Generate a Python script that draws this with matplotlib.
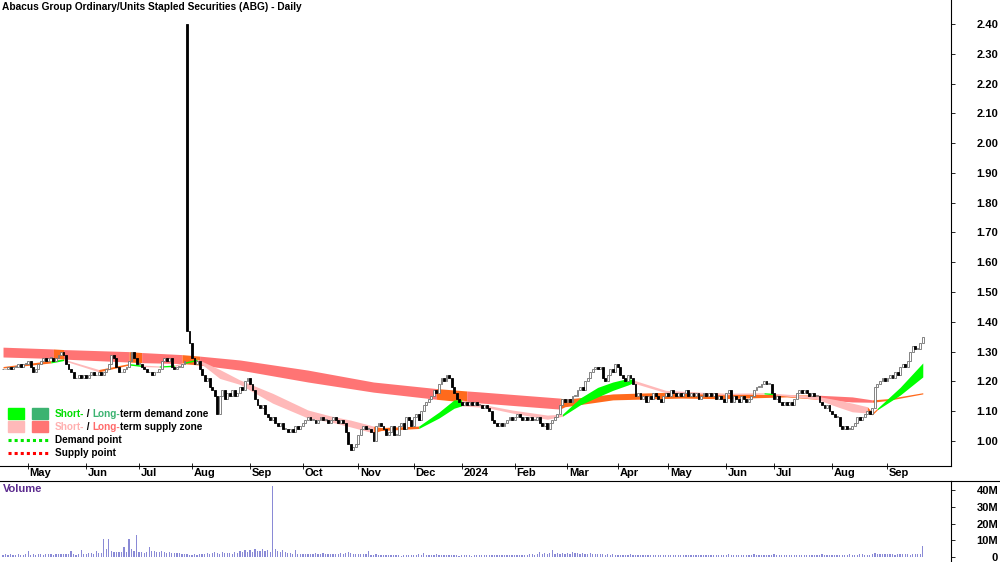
import numpy as np
import pandas as pd
import matplotlib
matplotlib.use('Agg')
import matplotlib.pyplot as plt
from matplotlib.patches import Rectangle
from matplotlib.lines import Line2D

plt.rcParams['font.family'] = ['Liberation Sans Narrow', 'Liberation Sans', 'DejaVu Sans']

title = 'Abacus Group Ordinary/Units Stapled Securities (ABG) - Daily'

# trading calendar
start_date = '2023-04-14'
asx_holidays = ['2023-04-25', '2023-06-12', '2023-12-25', '2023-12-26', '2024-01-01',
                '2024-01-26', '2024-03-29', '2024-04-01', '2024-04-25', '2024-06-10']

# daily closes
close = [
    1.24, 1.24, 1.25, 1.24, 1.25, 1.25, 1.26, 1.25, 1.26, 1.26,
    1.27, 1.25, 1.23, 1.24, 1.26,
    1.27, 1.28, 1.27, 1.28, 1.28, 1.27, 1.28, 1.29, 1.30, 1.29,
    1.26, 1.24, 1.23, 1.21, 1.21, 1.22,
    1.21, 1.22, 1.21, 1.22, 1.23, 1.22, 1.22, 1.23, 1.22, 1.23,
    1.24, 1.26, 1.29, 1.28,
    1.25, 1.23, 1.23, 1.24, 1.25, 1.27,
    1.30, 1.28, 1.26, 1.26,
    1.25, 1.24, 1.23, 1.23, 1.22, 1.23, 1.23, 1.24,
    1.27, 1.28, 1.27, 1.28, 1.25, 1.24, 1.25, 1.25,
    1.26, 1.27,
    1.37,
    1.33, 1.28, 1.26, 1.27, 1.24,
    1.22, 1.20, 1.21, 1.18, 1.17, 1.15,
    1.09,
    1.15, 1.17, 1.14, 1.16, 1.15,
    1.17, 1.15, 1.16, 1.18, 1.17,
    1.20, 1.21, 1.19,
    1.17, 1.14, 1.12, 1.11, 1.12,
    1.09, 1.08, 1.07, 1.08, 1.06, 1.05, 1.06,
    1.04, 1.04, 1.03, 1.04, 1.03, 1.05, 1.04, 1.05, 1.06,
    1.07, 1.08, 1.07, 1.07, 1.06, 1.07, 1.08, 1.07, 1.07,
    1.06, 1.07, 1.08, 1.07, 1.06, 1.07, 1.06,
    1.03,
    0.99, 0.97, 0.98, 0.99,
    1.02, 1.04, 1.05, 1.04, 1.04,
    1.03, 1.00,
    1.05, 1.06, 1.05,
    1.04, 1.02, 1.03, 1.05, 1.02,
    1.02, 1.05, 1.06, 1.04,
    1.08, 1.07, 1.05, 1.08, 1.09,
    1.07, 1.10, 1.12, 1.13, 1.14,
    1.15, 1.17, 1.16, 1.19, 1.21,
    1.20, 1.22, 1.21,
    1.18, 1.16, 1.14,
    1.13, 1.12, 1.13, 1.12, 1.13,
    1.12, 1.13, 1.12, 1.12, 1.11,
    1.12, 1.11, 1.10,
    1.07, 1.06, 1.05, 1.06,
    1.05, 1.06, 1.07, 1.08, 1.07,
    1.08, 1.09, 1.08, 1.07, 1.08, 1.07,
    1.08, 1.07, 1.07, 1.08, 1.06,
    1.05, 1.06, 1.04, 1.06, 1.07,
    1.08, 1.09, 1.12, 1.14,
    1.13, 1.14, 1.13, 1.15, 1.15,
    1.17, 1.18, 1.17, 1.20, 1.21,
    1.23, 1.24, 1.25, 1.24, 1.25,
    1.21, 1.20, 1.22,
    1.24, 1.23, 1.26, 1.25,
    1.22, 1.21, 1.20, 1.22,
    1.21, 1.19,
    1.15,
    1.16, 1.14, 1.15, 1.13, 1.15,
    1.14, 1.16, 1.15, 1.14, 1.13, 1.15,
    1.16, 1.15, 1.17, 1.16, 1.15, 1.16,
    1.15, 1.16, 1.17, 1.15, 1.16, 1.15,
    1.16, 1.14, 1.15, 1.16, 1.15, 1.16,
    1.15, 1.16, 1.14, 1.15, 1.14,
    1.13, 1.16, 1.17, 1.13, 1.15,
    1.14, 1.13, 1.15, 1.14, 1.13,
    1.14, 1.15, 1.17, 1.18, 1.18,
    1.19, 1.20, 1.19, 1.19,
    1.16, 1.14, 1.15,
    1.13, 1.12, 1.13, 1.12, 1.13, 1.12,
    1.14, 1.16, 1.17, 1.16, 1.17,
    1.16, 1.15, 1.16, 1.15, 1.15,
    1.13, 1.12, 1.11, 1.12, 1.10,
    1.09, 1.08, 1.08,
    1.05, 1.04, 1.05, 1.04, 1.04, 1.05,
    1.06, 1.08, 1.07, 1.08, 1.09,
    1.10, 1.09, 1.11,
    1.18,
    1.19, 1.20, 1.21, 1.20,
    1.21, 1.22, 1.21, 1.23, 1.22,
    1.25, 1.26, 1.25, 1.27,
    1.30, 1.32, 1.31,
    1.31, 1.33, 1.35,
]
# the bad tick on the spike day
open_override = {73: 2.40}

# daily volume, millions
volume_m = [
    1.2, 1.5, 1.0, 1.8, 1.3, 1.1, 1.6, 1.4, 1.2, 1.9,
    3.8, 1.4, 1.6, 1.3, 1.7, 1.5, 1.4, 1.8, 1.5, 1.6,
    1.4, 1.7, 1.6, 1.5, 1.8, 1.9, 2.0, 3.8, 1.6, 1.4,
    1.5, 4.4, 1.8, 1.6, 2.2, 2.6, 1.9, 3.4, 2.1, 2.4,
    10.9, 4.8, 10.9, 3.8, 2.9, 3.1, 2.7, 2.9, 5.7, 3.2,
    10.5, 5.0, 3.4, 13.0, 2.9, 2.8, 2.6, 3.1, 5.7, 3.4,
    3.8, 3.2, 2.9, 3.6, 2.7, 2.4, 3.0, 2.6, 2.2, 2.5,
    2.3, 1.8, 1.5, 2.0, 1.4, 1.2, 1.6, 1.3, 1.5, 1.7,
    1.9, 2.2, 1.8, 2.5, 2.7, 2.4, 1.6, 2.8, 2.3, 2.6,
    2.2, 1.9, 3.0, 2.1, 3.6, 2.8, 4.2, 3.1, 3.9, 2.7,
    4.6, 3.3, 3.8, 4.9, 3.5, 4.1, 3.0, 42.5, 4.5, 3.6,
    3.2, 4.0, 2.8, 2.1, 2.6, 1.9, 4.4, 2.0, 1.7, 1.8,
    1.9, 1.6, 2.0, 1.8, 2.2, 1.7, 1.9, 2.1, 1.6, 1.8,
    1.7, 1.5, 2.0, 1.9, 2.3, 1.6, 2.4, 2.9, 2.2, 1.8,
    1.7, 1.6, 2.0, 1.5, 1.8, 3.8, 1.4, 1.2, 1.5, 1.1,
    1.3, 1.0, 1.2, 0.9, 1.1, 1.4, 1.0, 1.2, 0.8, 1.1,
    1.0, 1.3, 0.9, 1.2, 1.1, 1.6, 1.4, 2.5, 1.2, 1.0,
    1.3, 1.1, 1.5, 1.2, 1.0, 1.4, 1.2, 1.1, 0.9, 1.3,
    1.0, 0.8, 1.1, 0.9, 1.2, 1.0, 0.8, 0.9, 1.1, 1.0,
    1.2, 0.9, 1.3, 1.1, 1.0, 1.2, 0.9, 1.1, 1.3, 1.2,
    1.0, 1.4, 1.1, 1.2, 1.0, 1.3, 1.1, 1.4, 1.2, 1.5,
    1.7, 1.4, 1.9, 3.2, 1.8, 2.1, 1.6, 2.3, 4.4, 1.9,
    2.2, 1.8, 2.6, 2.0, 2.4, 1.7, 2.8, 2.1, 2.5, 1.9,
    2.3, 2.0, 1.8, 2.2, 1.6, 1.9, 1.7, 1.5, 1.8, 1.4,
    1.6, 1.3, 1.5, 1.2, 1.4, 1.1, 1.3, 1.0, 1.2, 1.9,
    1.3, 1.1, 1.2, 1.0, 1.3, 1.1, 0.9, 1.2, 1.0, 1.1,
    1.3, 1.1, 1.2, 1.4, 1.0, 1.2, 0.9, 1.1, 1.3, 1.0,
    1.2, 1.0, 1.1, 1.3, 0.9, 1.2, 1.0, 1.1, 1.4, 1.2,
    1.0, 1.3, 1.1, 1.2, 1.0, 1.4, 1.1, 1.2, 1.6, 1.0,
    1.3, 1.1, 1.2, 1.0, 1.4, 1.1, 1.3, 1.2, 1.5, 1.1,
    1.2, 1.0, 1.3, 1.1, 1.4, 1.2, 1.9, 1.3, 1.1, 1.2,
    1.0, 1.3, 1.1, 1.2, 1.4, 1.1, 1.2, 1.0, 1.3, 1.1,
    1.2, 1.4, 1.1, 1.3, 1.2, 1.5, 1.3, 1.4, 1.2, 1.3,
    1.1, 1.2, 1.4, 1.3, 1.1, 1.2, 1.5, 1.3, 1.2, 1.4,
    1.6, 2.0, 1.4, 1.2, 1.3, 1.5, 2.1, 1.8, 1.6, 1.9,
    1.7, 1.5, 1.8, 1.6, 1.4, 1.9, 1.7, 1.5, 1.6, 1.8,
    1.4, 1.7, 1.5, 1.6, 1.8, 6.3,
]

# long-term zone edges, sampled at trading-day positions
lt_idx = [0, 20, 24, 50, 55, 71, 78, 94, 121, 147,
          172, 184, 189, 221, 223, 242, 269, 285, 311, 323,
          337, 345, 351, 365]
lt_top = [1.315, 1.309, 1.307, 1.300, 1.297, 1.290, 1.285, 1.272, 1.238, 1.198,
          1.176, 1.168, 1.165, 1.144, 1.140, 1.158, 1.165, 1.160, 1.155, 1.154,
          1.148, 1.138, 1.142, 1.162]
lt_bot = [1.282, 1.277, 1.275, 1.265, 1.263, 1.260, 1.255, 1.238, 1.198, 1.164,
          1.140, 1.130, 1.128, 1.107, 1.115, 1.138, 1.144, 1.142, 1.148, 1.140,
          1.131, 1.130, 1.136, 1.158]
lt_state = ['R', 'O', 'R', 'O', 'R', 'O', 'R', 'R', 'R', 'R',
            'O', 'R', 'R', 'O', 'O', 'O', 'O', 'O', 'O', 'R',
            'R', 'O', 'O', 'O']

# short-term zone edges
st_idx = [0, 19, 24, 38, 50, 55, 62, 68, 72, 77,
          86, 94, 107, 121, 130, 138, 147, 150, 165, 173,
          179, 182, 192, 202, 216, 222, 229, 236, 242, 248,
          250, 263, 285, 302, 306, 323, 331, 337, 343, 345,
          347, 356, 365]
st_top = [1.250, 1.270, 1.275, 1.240, 1.260, 1.255, 1.252, 1.255, 1.265, 1.275,
          1.240, 1.205, 1.160, 1.104, 1.084, 1.070, 1.050, 1.045, 1.050, 1.097,
          1.138, 1.138, 1.120, 1.104, 1.087, 1.090, 1.144, 1.180, 1.198, 1.210,
          1.205, 1.170, 1.160, 1.162, 1.160, 1.150, 1.138, 1.127, 1.115, 1.095,
          1.110, 1.180, 1.262]
st_bot = [1.245, 1.262, 1.270, 1.232, 1.255, 1.250, 1.248, 1.250, 1.260, 1.270,
          1.210, 1.190, 1.127, 1.077, 1.064, 1.047, 1.027, 1.035, 1.042, 1.077,
          1.110, 1.118, 1.112, 1.094, 1.073, 1.083, 1.121, 1.148, 1.170, 1.188,
          1.195, 1.162, 1.155, 1.158, 1.155, 1.140, 1.115, 1.098, 1.094, 1.088,
          1.105, 1.154, 1.215]
st_state = ['O', 'G', 'P', 'O', 'G', 'P', 'G', 'P', 'G', 'P',
            'P', 'P', 'P', 'P', 'P', 'P', 'O', 'O', 'G', 'G',
            'G', 'P', 'P', 'P', 'P', 'G', 'G', 'G', 'G', 'G',
            'P', 'P', 'P', 'G', 'P', 'P', 'P', 'P', 'O', 'O',
            'G', 'G', 'G']

zone_colors = {'R': '#FF7474', 'P': '#FFB9B9', 'G': '#00FF00', 'O': '#FF6A1C'}
W, H = 1000, 562


def fx(px):
    return px / W


def fy(py):
    return 1 - py / H


n = len(close)
days = pd.bdate_range(start_date, '2024-12-31')
days = days[~days.isin(pd.to_datetime(asx_holidays))][:n]
x = np.arange(n)
c = np.array(close)
o = np.r_[c[0], c[:-1]]
for k, v in open_override.items():
    o[k] = v

fig = plt.figure(figsize=(W / 100, H / 100), dpi=100)
ax = fig.add_axes([0, fy(466), fx(951), 466 / H])
axv = fig.add_axes([0, 0, fx(951), (562 - 481) / H])


def draw_zone(idx, top, bot, state):
    j = 0
    while j < len(idx) - 1:
        k = j
        while k + 1 < len(idx) - 1 and state[k + 1] == state[j]:
            k += 1
        sl = slice(j, k + 2)
        ax.fill_between(idx[sl], bot[sl], top[sl], color=zone_colors[state[j]],
                        lw=0, zorder=1)
        j = k + 1


draw_zone(lt_idx, lt_top, lt_bot, lt_state)
draw_zone(st_idx, st_top, st_bot, st_state)

# candles: open = previous close
up = c >= o
body_lo = np.minimum(o, c)
body_h = np.maximum(np.abs(c - o), 0.003)
ax.bar(x[up], body_h[up], bottom=body_lo[up], width=0.75, facecolor='white',
       edgecolor='#707070', linewidth=0.6, zorder=3)
ax.bar(x[~up], body_h[~up], bottom=body_lo[~up], width=0.75, facecolor='black',
       edgecolor='black', linewidth=0.6, zorder=3)

ax.set_xlim(-1.2, 376.2)
ax.set_ylim(0.916, 2.4806)
ax.set_yticks(np.arange(1.0, 2.41, 0.1))
ax.yaxis.set_major_formatter(plt.FuncFormatter(lambda v, _: f'{v:.2f}'))
ax.yaxis.tick_right()
ax.tick_params(axis='y', direction='out', length=3, pad=31, labelsize=8, width=0.6)
for lab in ax.get_yticklabels():
    lab.set_horizontalalignment('right')
    lab.set_fontweight('bold')
for s in ['top', 'left']:
    ax.spines[s].set_visible(False)
for s in ['bottom', 'right']:
    ax.spines[s].set_linewidth(0.8)

# month ticks at first trading day of each month
month_pos, month_lab = [], []
for i in range(1, n):
    if days[i].month != days[i - 1].month:
        month_pos.append(i)
        month_lab.append('2024' if days[i].month == 1 else days[i].strftime('%b'))
ax.set_xticks(month_pos)
ax.set_xticklabels([])
ax.tick_params(axis='x', direction='inout', length=5, width=0.6)
for p, lab in zip(month_pos, month_lab):
    ax.text(p + 0.6, -0.004, lab, transform=ax.get_xaxis_transform(), ha='left',
            va='top', fontsize=8, fontweight='bold')

# volume panel
axv.bar(x, np.array(volume_m) * 1e6, width=0.5, color='#8A8AD6', zorder=2)
axv.set_xlim(ax.get_xlim())
axv.set_ylim(-3.0e6, 45.4e6)
axv.set_yticks([0, 10e6, 20e6, 30e6, 40e6])
axv.yaxis.set_major_formatter(plt.FuncFormatter(lambda v, _: '0' if v == 0 else f'{v / 1e6:.0f}M'))
axv.yaxis.tick_right()
axv.tick_params(axis='y', direction='out', length=3, pad=31, labelsize=8, width=0.6)
for lab in axv.get_yticklabels():
    lab.set_horizontalalignment('right')
    lab.set_fontweight('bold')
axv.set_xticks([])
for s in ['bottom', 'left']:
    axv.spines[s].set_visible(False)
for s in ['top', 'right']:
    axv.spines[s].set_linewidth(0.8)
fig.add_artist(Line2D([fx(951), 1], [fy(481), fy(481)], color='black', lw=0.8))
fig.text(fx(3), fy(489), 'Volume', color='#5B2A8E', fontsize=8, fontweight='bold',
         va='center', ha='left')

fig.text(fx(2), fy(7), title, fontsize=7.3, fontweight='bold', va='center', ha='left')

# legend
renderer = fig.canvas.get_renderer()


def colored_text(px, py, parts, size=7.2):
    xf = fx(px)
    for s, col in parts:
        t = fig.text(xf, fy(py), s, color=col, fontsize=size, fontweight='bold',
                     va='center', ha='left')
        xf += t.get_window_extent(renderer=renderer).width / fig.bbox.width


for (px0, col) in [(8, '#00FF00'), (32, '#3CB371')]:
    fig.add_artist(Rectangle((fx(px0), fy(419)), 16 / W, 11 / H, color=col,
                             transform=fig.transFigure))
for (px0, col) in [(8, '#FFB9B9'), (32, '#FF7474')]:
    fig.add_artist(Rectangle((fx(px0), fy(432)), 16 / W, 11 / H, color=col,
                             transform=fig.transFigure))
fig.add_artist(Line2D([fx(8), fx(48)], [fy(440), fy(440)], color='#00E600', lw=2.2,
                      linestyle=(0, (1, 1))))
fig.add_artist(Line2D([fx(8), fx(48)], [fy(453), fy(453)], color='#FF0000', lw=2.2,
                      linestyle=(0, (1, 1))))
colored_text(55, 414, [('Short-', '#00DD00'), (' / ', 'black'), ('Long-', '#3CB371'),
                       ('term demand zone', 'black')])
colored_text(55, 427, [('Short-', '#FFB0B0'), (' / ', 'black'), ('Long-', '#FF6A6A'),
                       ('term supply zone', 'black')])
colored_text(55, 440, [('Demand point', 'black')])
colored_text(55, 453, [('Supply point', 'black')])

fig.savefig('out.png', dpi=100, facecolor='white')
